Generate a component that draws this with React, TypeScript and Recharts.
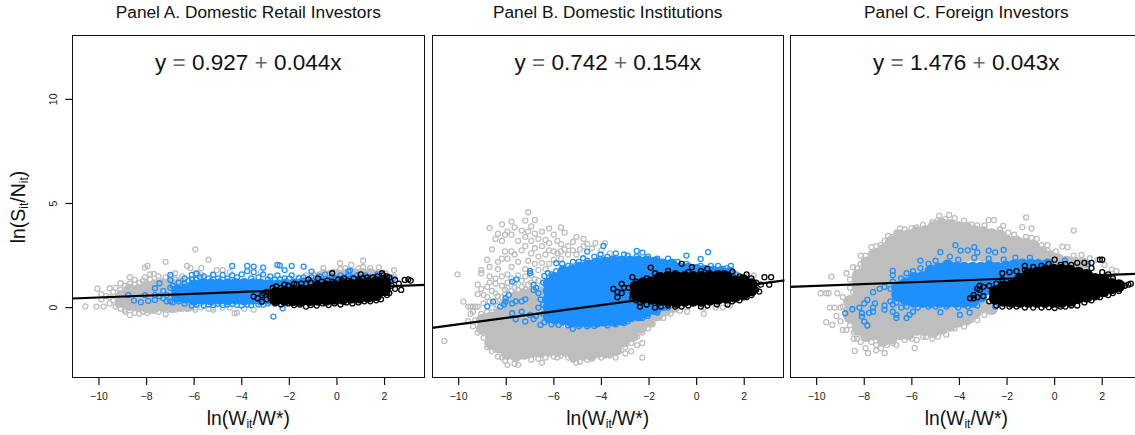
import { Scatter, ScatterChart, XAxis, YAxis } from "recharts";

type Row = [number, number[]];

const xTicks = [-10, -8, -6, -4, -2, 0, 2];
const yTicks = [0, 5, 10];
const titles = ["Panel A. Domestic Retail Investors", "Panel B. Domestic Institutions", "Panel C. Foreign Investors"];
const intercepts = [0.927, 0.742, 1.476];
const slopes = [0.044, 0.154, 0.043];
const xRange = [-11.12, 3.7];
const yRange = [-3.38, 13.09];

const aGreyCore: Row[] = [[-9.05,[0.3,0.55]],[-8.7,[0.15,0.5,0.85]],[-8.35,[0.1,0.4,0.8]],[-8,[0.05,0.35,0.75,1]],[-7.65,[0.05,0.4,0.8,1.05]],[-7.3,[0.1,0.45,0.85,1.1]],[-6.95,[0.05,0.35,0.75,1.1]],[-6.6,[0.1,0.4,0.8,1.15]],[-6.25,[0.1,0.4]],[-0.7,[1.45]],[-0.35,[1.5]],[0,[1.55]],[0.35,[1.55]],[0.7,[1.6]],[1.05,[1.6]],[1.4,[1.6]],[1.75,[1.55]]];
const aBlueCore: Row[] = [[-6.7,[0.55,0.8]],[-6.35,[0.5,0.85]],[-6,[0.42,0.75,1.05]],[-5.65,[0.45,0.8,1.1]],[-5.3,[0.42,0.75,1.1]],[-4.95,[0.45,0.8,1.1]],[-4.6,[0.42,0.75,1.1]],[-4.25,[0.45,0.8,1.12]],[-3.9,[0.42,0.75,1.12]],[-3.55,[0.45,0.8,1.1]],[-3.2,[0.42,0.75,1.08]],[-2.85,[0.45,0.8,1.05]],[-2.5,[1.05]],[-2.15,[1.1]],[-1.8,[1.1]],[-1.45,[1.15]],[-1.1,[1.15]],[-0.75,[1.2]],[-0.4,[1.2]],[-0.05,[1.25]],[0.3,[1.3]],[0.65,[1.3]],[1,[1.3]],[1.35,[1.3]],[1.7,[1.3]],[2.1,[1.3]]];
const aBlackCore: Row[] = [[-2.55,[0.42,0.68]],[-2.2,[0.4,0.72]],[-1.85,[0.38,0.75]],[-1.5,[0.38,0.8]],[-1.15,[0.38,0.8]],[-0.8,[0.4,0.72,0.95]],[-0.45,[0.4,0.72,1]],[-0.1,[0.45,0.75,1.02]],[0.25,[0.45,0.75,1.02]],[0.6,[0.5,0.8,1.08]],[0.95,[0.5,0.82,1.12]],[1.3,[0.55,0.85,1.15]],[1.65,[0.62,0.9,1.2]],[2,[0.85,1.2]]];

const bGreyCore: Row[] = [[-9,[-1,-0.6]],[-8.65,[-1.7,-1.3,-0.9,-0.5]],[-8.3,[-1.9,-1.5,-1.1,-0.7,-0.3]],[-7.95,[-2.2,-1.8,-1.4,-1,-0.6,-0.2,0.2]],[-7.6,[-2.3,-1.9,-1.5,-1.1,-0.7,-0.3,0.1,0.5]],[-7.25,[-2.2,-1.8,-1.4,-1,-0.6,-0.2,0.2,0.6]],[-6.9,[-2.1,-1.7,-1.3,-0.9,-0.5,-0.1,0.3,0.7]],[-6.55,[-2.1,-1.7,-1.3,-0.9,-0.5,-0.1,0.3,0.7]],[-6.2,[-2.05,-1.65,-1.25,-0.9]],[-5.85,[-2.05,-1.65,-1.25,-0.9]],[-5.5,[-2,-1.6,-1.2]],[-5.15,[-2.3,-1.9,-1.5,-1.1]],[-4.8,[-2.2,-1.8,-1.4,-1]],[-4.45,[-2.25,-1.85,-1.45,-1.1]],[-4.1,[-2.1,-1.7,-1.3,-0.9]],[-3.75,[-2.1,-1.7,-1.3,-0.9]],[-3.4,[-2,-1.6,-1.2,-0.8]],[-3.05,[-1.6,-1.2,-0.8]],[-2.7,[-1.35,-1,-0.6]],[-2.35,[-0.95,-0.6,-0.3]],[-2,[-0.65,-0.3]],[-1.65,[-0.35,0]],[-1.3,[-0.1,0.2]],[-0.95,[0.05]]];
const bBlueCore: Row[] = [[-6.2,[-0.4,0,0.4,0.8,1.15]],[-5.95,[-0.5,-0.15,0.25,0.65,1.05,1.4]],[-5.6,[-0.55,-0.2,0.2,0.6,1,1.4,1.7]],[-5.25,[-0.65,-0.25,0.15,0.55,0.95,1.35,1.75]],[-4.9,[-0.65,-0.25,0.15,0.55,0.95,1.35,1.75,1.9]],[-4.55,[-0.65,-0.25,0.15,0.55,0.95,1.35,1.75,2]],[-4.2,[-0.65,-0.25,0.15,0.55,0.95,1.35,1.75,2.1]],[-3.85,[-0.6,-0.2,0.2,0.6,1,1.4,1.8,2.15]],[-3.5,[-0.6,-0.2,0.2,0.6,1,1.4,1.8,2.2]],[-3.15,[-0.55,-0.2,0.2,0.6,1,1.4,1.8,2.2]],[-2.8,[-0.4,-0.05,0.35,0.75,1.15,1.55,1.95,2.2]],[-2.45,[-0.35,0,0.4,1.2,1.6,2,2.2]],[-2.1,[-0.15,0.2,1.5,1.9,2.2]],[-1.75,[-0.05,1.55,1.9,2.15]],[-1.4,[0.15,1.6,1.9,2.05]],[-1.05,[1.5,1.85,2.05]],[-0.7,[1.5,1.85]],[-0.35,[1.5,1.85]],[0,[1.5,1.8]],[0.35,[1.4,1.75]],[0.7,[1.45,1.72]],[1.05,[1.5,1.7]],[1.4,[1.5,1.65]]];
const bBlackCore: Row[] = [[-2.55,[0.65,1]],[-2.25,[0.5,0.85,1.15]],[-1.9,[0.45,0.85,1.2]],[-1.55,[0.4,0.8,1.2,1.4]],[-1.2,[0.35,0.75,1.15,1.45]],[-0.85,[0.3,0.7,1.1,1.45]],[-0.5,[0.35,0.75,1.15,1.45]],[-0.15,[0.35,0.75,1.15,1.45]],[0.2,[0.35,0.75,1.15,1.45]],[0.55,[0.4,0.8,1.2,1.45]],[0.9,[0.45,0.85,1.25,1.5]],[1.25,[0.5,0.9,1.25,1.45]],[1.6,[0.55,0.95,1.25]],[1.95,[0.65,1.05,1.3]],[2.3,[0.85,1.1]]];

const cGreyCore: Row[] = [[-8.6,[-0.45,-0.1,0.3]],[-8.25,[-1.05,-0.7,-0.3,0.1,0.5,0.9,1.25,1.55]],[-7.9,[-1.35,-1,-0.6,-0.2,0.2,0.6,1,1.4,1.8,2.15]],[-7.55,[-1.25,-0.9,-0.5,-0.1,0.3,0.7,1.1,1.5,1.9,2.3,2.55]],[-7.2,[-1.55,-1.2,-0.8,-0.4,0,0.4,0.8,1.2,1.6,2,2.4,2.75]],[-6.85,[-1.45,-1.1,-0.7,-0.3,0.1,0.5,0.9,1.3,1.7,2.1,2.5,2.85,3.15]],[-6.5,[-1.25,-0.9,-0.5,-0.1,0.3,1.1,1.5,1.9,2.3,2.7,3.1,3.45]],[-6.15,[-1.25,-0.9,-0.5,-0.1,1.5,1.9,2.3,2.7,3.1,3.45]],[-5.8,[-1.05,-0.7,-0.3,0.05,1.7,2.1,2.5,2.9,3.3,3.6]],[-5.45,[-1.05,-0.7,-0.3,0.05,1.9,2.3,2.7,3.1,3.5,3.65]],[-5.1,[-1.15,-0.8,-0.4,0,2.1,2.5,2.9,3.3,3.7,3.85]],[-4.75,[-1,-0.6,-0.2,0.05,2.2,2.6,3,3.4,3.8,4]],[-4.4,[-0.85,-0.5,-0.1,2.4,2.8,3.2,3.6,3.95]],[-4.05,[-0.65,-0.3,0,2.4,2.8,3.2,3.6,3.85]],[-3.7,[-0.55,-0.2,2.5,2.9,3.3,3.7,3.8]],[-3.35,[-0.25,0.05,2.5,2.9,3.3,3.65]],[-3,[0.05,2.5,2.9,3.3,3.6]],[-2.65,[-0.05,2.4,2.8,3.2,3.5]],[-2.3,[2.5,2.9,3.25,3.45]],[-1.95,[2.4,2.8,3.15]],[-1.6,[2.5,2.85,3.15]],[-1.25,[2.4,2.8,3.05]],[-0.9,[2.4,2.75,2.95]],[-0.55,[2.4,2.65]],[-0.2,[2.3,2.45]],[0.15,[2.3]],[0.5,[2.2]],[0.85,[2.15]],[1.2,[2.1]]];
const cBlueCore: Row[] = [[-6.6,[0.6,0.95]],[-6.25,[0.4,0.8,1.15]],[-5.9,[0.3,0.7,1.1,1.4]],[-5.55,[0.3,0.7,1.1,1.45]],[-5.2,[0.3,0.7,1.1,1.5,1.75]],[-4.85,[0.3,0.7,1.1,1.5,1.85]],[-4.5,[0.3,0.7,1.1,1.5,1.9,2]],[-4.15,[0.3,0.7,1.1,1.5,1.9]],[-3.8,[0.3,0.7,1.1,1.5,1.9]],[-3.45,[0.3,0.7,1.1,1.5,1.9]],[-3.1,[0.55,0.95,1.35,1.9]],[-2.75,[0.9,1.3,1.7,1.95]],[-2.4,[1.1,1.5,1.9]],[-2.05,[1.3,1.7,1.95]],[-1.7,[1.6,2]],[-1.35,[1.85,2.05]],[-1,[2.05]],[-0.65,[2]],[-0.3,[2.05]]];
const cBlackCore: Row[] = [[-2.5,[0.45,0.75]],[-2.15,[0.35,0.75,1]],[-1.8,[0.3,0.7,1.05]],[-1.45,[0.3,0.7,1.1,1.35]],[-1.1,[0.3,0.7,1.1,1.45,1.6]],[-0.75,[0.3,0.7,1.1,1.5,1.65]],[-0.4,[0.3,0.7,1.1,1.5,1.75]],[-0.05,[0.3,0.7,1.1,1.5,1.8]],[0.3,[0.3,0.7,1.1,1.5,1.8]],[0.65,[0.35,0.75,1.15,1.5,1.75]],[1,[0.5,0.9,1.3,1.65]],[1.35,[0.55,0.95,1.35,1.55]],[1.7,[0.65,1.05,1.35]],[2.05,[0.8,1.2,1.3]],[2.4,[0.95,1.1]],[2.7,[1.05]]];

// single open circles: the edges and outliers of each cloud
const aGreyRings: Row[] = [[-10.57,[0.06]],[-10.1,[0.05]],[-10.07,[0.91]],[-9.9,[0.65,0.4]],[-9.8,[0.05]],[-9.7,[0.55]],[-9.55,[0.93,0.2,0.5]],[-9.4,[0.75,0.35]],[-9.3,[0.05,0.95]],[-9.2,[0.5,0.15]],[-9.1,[1.17,-0.05,0.85]],[-8.9,[-0.1,1.05,-0.2]],[-8.7,[1.46,-0.35,1.15]],[-8.5,[1.33,-0.25,1.1]],[-8.3,[1.2,-0.3]],[-8.15,[-0.2,1.3]],[-8.07,[1.92,1.45]],[-7.96,[2,-0.25]],[-7.85,[1.6,1.35,-0.15]],[-7.7,[1.62,-0.15]],[-7.5,[1.5,-0.2,1.3]],[-7.2,[2.2,-0.32,1.45]],[-6.95,[1.5,-0.1]],[-6.8,[1.65,-0.1,1.35]],[-6.5,[1.5,-0.05]],[-6.3,[2,-0.05]],[-6.15,[1.9,0]],[-5.95,[2.8,1.6,-0.1,0]],[-5.7,[1.9,0,1.6]],[-5.4,[2.3,-0.05]],[-5.2,[-0.1,1.6,0]],[-5.05,[1.8]],[-4.8,[1.8,0]],[-4.5,[0,1.7]],[-4.3,[-0.27]],[-4.2,[-0.24]],[-3.9,[-0.05]],[-3.5,[-0.1]],[-3.2,[1.7]],[-1.6,[1.45]],[-1.3,[1.55]],[-1,[1.6]],[-0.57,[1.9,1.7]],[-0.15,[1.73]],[0.13,[2.13,1.85]],[0.35,[1.9]],[0.6,[2.05]],[0.9,[1.9]],[1.1,[2.25,1.95]],[1.4,[1.9]],[1.76,[1.93]],[2.05,[1.65]],[2.4,[1.8,1.5]]];
const aBlueRings: Row[] = [[-8.77,[0.6]],[-8.53,[0.34]],[-8.24,[0.26]],[-8.07,[0.6]],[-7.93,[0.32]],[-7.65,[0.93,0.37,0.6]],[-7.46,[1.17,0.55]],[-7.3,[0.45,0.8]],[-7.15,[0.6,0.3]],[-7,[1.57,1.33,0.3,0.95]],[-6.9,[1.05,0.25]],[-6.65,[1.2,0.3]],[-6.4,[1.4,0.2,1.15]],[-6.25,[1.3]],[-6.1,[1.57,0.1,1.35]],[-5.9,[1.65,0.15,1.35]],[-5.75,[1.45]],[-5.6,[1.5,0.1]],[-5.4,[1.4,0.15]],[-5.2,[1.57,0.12]],[-5,[1.4,0.18]],[-4.8,[1.57,0.12]],[-4.6,[1.4,0.15]],[-4.4,[2,1.55,0.18]],[-4.2,[1.45,0.12]],[-4,[1.6,0.1]],[-3.77,[2,1.75,0.15]],[-3.6,[1.4,0.12]],[-3.5,[1.97,1.7]],[-3.3,[1.45,0.15]],[-3.1,[1.92,1.6,0.14]],[-2.9,[1.35,0.2]],[-2.8,[1.5]],[-2.6,[1.35]],[-2.5,[2.05,1.55]],[-2.4,[2.02,1.35]],[-2.2,[1.8,1.4]],[-2.28,[-0.03]],[-2.67,[-0.43]],[-2,[1.4]],[-1.9,[2,1.55]],[-1.6,[1.4]],[-1.4,[1.97,1.45]],[-1.07,[1.73,1.45]],[-0.75,[1.5]],[-0.5,[1.6]],[-0.2,[1.5]],[0.15,[1.55]],[0.48,[1.73,1.55]],[0.55,[1.78]],[0.85,[1.55]],[1.2,[1.55]],[1.7,[1.6]],[2.35,[1.4]]];
const aBlackRings: Row[] = [[-3.5,[0.53]],[-3.33,[0.45]],[-3.15,[0.29,0.6]],[-3.08,[0.7]],[-2.95,[0.4,0.75]],[-2.8,[0.5,0.65]],[-2.7,[0.3,0.95]],[-2.6,[0.2,0.85]],[-2.55,[1.02]],[-2.35,[0.15,0.95]],[-2.2,[1.1]],[-2.05,[0.2,1.05]],[-1.8,[1.15,0.12]],[-1.7,[1.1]],[-1.55,[0.15]],[-1.5,[1.15]],[-1.3,[0.05,1.15]],[-1.2,[1.36]],[-1.1,[0.12,1.2]],[-0.85,[0.1,1.15]],[-0.8,[1.4]],[-0.65,[1.25]],[-0.6,[0.2]],[-0.4,[1.3]],[-0.35,[0.12]],[-0.2,[1.65,1.25]],[-0.1,[0.2]],[0.05,[1.35]],[0.15,[0.15]],[0.2,[1.3]],[0.3,[1.4]],[0.4,[0.25]],[0.45,[1.3]],[0.65,[0.2]],[0.7,[1.4]],[0.9,[0.25,1.35]],[1,[1.6]],[1.1,[1.4]],[1.15,[0.3]],[1.25,[1.45]],[1.4,[0.3]],[1.5,[1.45]],[1.65,[0.35]],[1.7,[1.5]],[1.85,[0.4]],[1.9,[1.65]],[1.95,[1.55]],[2.1,[0.6,1.5]],[2.2,[1.45,0.7]],[2.3,[1.05]],[2.44,[1.33,0.9]],[2.6,[1.15]],[2.7,[0.85]],[2.85,[1.33]],[3,[1.36]],[3.1,[1.3]]];

const bGreyRings: Row[] = [[-10.6,[-1.6]],[-10.05,[1.6]],[-9.8,[0.29]],[-9.6,[-0.65,0.05]],[-9.5,[0.05,-0.3]],[-9.4,[-0.2,-0.9,0.05]],[-9.3,[0.05,-0.6]],[-9.2,[1.1,0.65,-1.2,0.05]],[-9.05,[1.8,1.65,-0.3,0.9]],[-8.95,[0.2,-0.5,-1.45,0.6]],[-8.8,[2.3,1,0.5,-1.9,-0.2]],[-8.7,[3.82,1.95,1.5,1.2,0.3]],[-8.6,[2.8,0.8,-2.1,0]],[-8.45,[3.3,1.4,1.15,0.7,0.3,-2]],[-8.35,[3.55,2.2,1.85,0.55,-2.35,0.1]],[-8.18,[4,3.2,2.35,1.5,1.05,0.5,0.2,-2.4]],[-8.05,[3.5,2.7,0.85,-2.55,0.65]],[-7.95,[3.65,2.35,1.6,1.2,-2.75,0.95]],[-7.78,[4.13,3.5,2.7,1.95,1.4,0.8]],[-7.65,[3.85,2.55,0.95,-2.7,1.2]],[-7.5,[3.2,2.2,1.55,-2.75,0.85]],[-7.35,[3.7,2.75,1.3,1]],[-7.2,[4.18,3.4,2.95,1.85,1.5,0.85]],[-7.08,[4.58,3.65,2.25,1.1]],[-6.95,[3.9,3.2,2.6,1.55,-2.5,1.2]],[-6.8,[4.2,3.55,2.85,2.1,1.35]],[-6.65,[3.3,2.45,1.8,1.3,-2.45]],[-6.5,[3.65,2.95,2.15,-2.65,1.1]],[-6.35,[3.25,2.55,1.85,-2.4]],[-6.2,[3.8,3.1,2.75,2.1]],[-6,[3.5,2.7,2.3,-2.35]],[-5.85,[3.2,2.6,-2.4]],[-5.7,[3.85,3.05,2.7,2.35,-2.3]],[-5.55,[3.6,2.8,-2.2]],[-5.4,[2.95,2.55,-2.4]],[-5.2,[3.15,2.75,-2.5]],[-5.05,[3.4,2.55,-2.65]],[-4.9,[2.8,-2.6]],[-4.75,[3.3,2.95,-2.4]],[-4.6,[3.05,-2.5]],[-4.4,[2.85,-2.45]],[-4.25,[3.1,-2.3]],[-4,[2.75,-2.4]],[-3.85,[3.1,-2.3]],[-3.65,[2.6,-2.3]],[-3.4,[-2.4]],[-3.25,[-2.1,-1.8]],[-3,[-1.9,-2.2]],[-2.75,[-1.7,-2.1]],[-2.5,[-1.4,-1.8]],[-2.28,[-2.4,-1.7,-1.2]],[-2.05,[-1]],[-1.85,[-0.8]],[-1.4,[-0.5]],[-1.1,[-0.3]],[-0.7,[-0.15]],[-0.4,[-0.2]],[0.3,[-0.3,0]],[0.8,[0]],[1.1,[0]],[1.4,[0.1]],[2.1,[1.5]],[2.4,[1.55]]];
const bBlueRings: Row[] = [[-8.8,[0.06]],[-8.55,[0.29]],[-8.25,[0.05]],[-8.1,[0.15]],[-8.03,[0.29,0.45]],[-7.9,[0.6]],[-7.75,[1.25,-0.27,0.2]],[-7.6,[-0.56,0.3]],[-7.57,[1.36]],[-7.35,[0.3,-0.2]],[-7.2,[-0.67,0.4]],[-7,[1.76,1.65,-0.35]],[-6.85,[1.09,0.85,-0.55]],[-6.75,[0.95,-0.4]],[-6.65,[0.7,0]],[-6.56,[-0.83,0.4]],[-6.45,[1.2,0.15,-0.3]],[-6.4,[1.52,-0.7]],[-6.25,[1.65,-0.6]],[-6.1,[1.6,-0.8]],[-5.9,[2.13,1.75]],[-5.65,[2.1,1.9]],[-5.8,[-0.83]],[-5.4,[2,-0.85]],[-5.2,[-1.02,2.2]],[-4.95,[2.2,-0.9]],[-4.77,[2.37]],[-4.6,[2.69,-0.9,2.25]],[-4.3,[2.45,-0.88]],[-4.04,[-0.75,2.55,2.35]],[-3.92,[2.96]],[-3.75,[2.45,-0.85]],[-3.4,[2.6,-0.8,2.4]],[-3.05,[-0.4,2.55,-0.75]],[-2.9,[2.5,-0.65]],[-2.52,[2.72,-0.3,2.45]],[-2.28,[2.64,-0.5]],[-2.05,[2.45,-0.4]],[-1.65,[2.35,-0.25]],[-1.2,[2.35,0]],[-0.8,[2.2]],[-0.43,[2.5,2.1]],[0.17,[2.34,2]],[0.48,[2.66]],[0.6,[2]],[0.9,[2]],[1.27,[1.9]],[1.44,[2]],[1.65,[1.6]]];
const bBlackRings: Row[] = [[-3.5,[0.9]],[-3.33,[0.5,0.75]],[-3.15,[1.14,0.7]],[-3.05,[0.95]],[-2.85,[0.95]],[-2.7,[1.46,0.45]],[-2.55,[1.25,0.35]],[-2.38,[0.05,0.25]],[-2.1,[0.15,1.4]],[-1.93,[1.92]],[-1.75,[1.65,0]],[-1.5,[1.55,0.05]],[-1.2,[1.76,0.1]],[-0.9,[0.05,1.65]],[-0.63,[2.1,0.05]],[-0.35,[0.1,1.7]],[-0.2,[1.94]],[0.18,[1.75,0.05]],[0.45,[1.86,0.1]],[0.55,[1.65]],[0.85,[1.62,0.15]],[1.15,[1.65]],[1.3,[0.15]],[1.5,[1.73,0.3]],[1.8,[1.5,0.35]],[2.1,[1.6,0.5]],[2.3,[1.4,0.6]],[2.5,[1.2,0.85]],[2.63,[0.77]],[2.7,[1.1]],[2.85,[1.46]],[3.05,[1.1]],[3.13,[1.46]]];

const cGreyRings: Row[] = [[-9.83,[0.69]],[-9.6,[0.69,-0.7]],[-9.5,[0.69]],[-9.45,[0]],[-9.38,[1.49]],[-9.34,[-0.83]],[-9.25,[0]],[-9.17,[-0.4]],[-9.13,[0.69]],[-9,[0,-0.65]],[-8.9,[-1.07,0.5,0.05]],[-8.75,[1.65,0.29,-1.07,-0.4]],[-8.6,[0.95,1.35,-0.85]],[-8.47,[1.94,0.75]],[-8.44,[-1.5,-1.2]],[-8.4,[-2.08]],[-8.3,[-1.5,1.9]],[-8.15,[2.5,2.1,-1.65]],[-7.94,[-1.95,2.5]],[-7.84,[-2.19]],[-7.7,[2.9,-1.65,2.6]],[-7.5,[-1.8,-2.05,2.95]],[-7.3,[3,-1.95]],[-7.14,[-2.19,3.2]],[-7.05,[-1.8,3.05]],[-7,[3.44]],[-6.8,[3.4,-1.7]],[-6.65,[-1.8,3.6]],[-6.5,[3.8]],[-6.3,[3.75,-1.55]],[-6,[3.8,-1.5]],[-5.88,[-1.95]],[-5.8,[-1.55,3.85]],[-5.53,[3.97,-1.4]],[-5.4,[-1.4]],[-5.14,[4.1,-1.5]],[-4.9,[-1.39,4.2]],[-4.85,[4.42]],[-4.6,[4.25]],[-4.55,[-0.9,-1.3]],[-4.43,[4.45]],[-4.2,[4.3,-1]],[-3.8,[4.18,-0.91]],[-3.5,[4,-0.6]],[-3.25,[3.95,-0.6]],[-2.95,[3.95,-0.35]],[-2.77,[4.2]],[-2.55,[4.2]],[-2.3,[3.75]],[-2.16,[3.92]],[-1.95,[3.6]],[-1.7,[3.5]],[-1.36,[3.86]],[-1.2,[4.33,3.4]],[-0.97,[3.8,3.35]],[-0.75,[3.3]],[-0.55,[3]],[-0.3,[3,2.75]],[0.05,[2.7]],[0.33,[2.93]],[0.54,[2.9]],[0.8,[3.7,2.5]],[1.13,[2.53]],[1.48,[2.37]],[1.8,[2.29]],[2.1,[2.05]],[2.4,[1.84]],[2.6,[1.75]]];
const cBlueRings: Row[] = [[-8.8,[-0.27]],[-8.5,[-0.08]],[-8.2,[0]],[-8.1,[-0.27,-0.43]],[-8,[-0.67,0.2]],[-7.87,[-0.86,0.37]],[-7.8,[-0.25]],[-7.63,[0.74,0,-0.2]],[-7.55,[0.2]],[-7.35,[0.9]],[-7.15,[1,0.1,-0.1]],[-6.9,[0.3,0.9]],[-6.8,[1.76,1.55,1.25,0.15,-0.2]],[-6.65,[-0.5,-0.35,0.25]],[-6.45,[1.4,0]],[-6.22,[-0.5,1.65,0.05]],[-6.1,[-0.35]],[-5.95,[1.75,-0.2]],[-5.75,[0]],[-5.64,[2.26,1.9]],[-5.3,[2.1,0.05]],[-5,[2.25,0.05]],[-4.8,[-0.22,2.66]],[-4.55,[0.05]],[-4.4,[2.45]],[-4.17,[3]],[-4.05,[2.3,0]],[-3.98,[-0.35]],[-3.95,[2.74]],[-3.65,[2.75,0.05]],[-3.57,[-0.24]],[-3.38,[2.9,2.4]],[-3.25,[2.65,0.1]],[-2.77,[2.74,2.35]],[-2.5,[2.65,0.05]],[-2.14,[2.77,2.3]],[-1.65,[2.4]],[-1.04,[2.4]],[-0.7,[2.2]],[0.43,[2.26]],[1.4,[2.1]],[2.45,[1.3]]];
const cBlackRings: Row[] = [[-3.55,[0.45]],[-3.4,[0.6,0.45]],[-3.25,[0.9,0.5]],[-3.15,[1.05,0.85]],[-3,[1,0.55]],[-2.75,[1.05,0.3]],[-2.45,[1.15,0.1]],[-2.2,[1.65,1.35,0.05]],[-1.9,[1.7,0.05]],[-1.6,[1.75,0.05]],[-1.25,[2,1.8,0]],[-0.9,[1.95,0]],[-0.55,[2,0]],[-0.25,[2.1,0.02]],[0,[2.3,-0.02]],[0.25,[2.05,0.05]],[0.45,[2.1,0.05]],[0.7,[2.05,0.1]],[0.95,[2.15,0.1]],[1.25,[2.15,0.25]],[1.55,[2.15,0.35,1.9]],[1.9,[2.3,0.5]],[2,[2.3,1.7]],[2.25,[1.6,0.6]],[2.45,[1.4,0.7]],[2.7,[1.15,0.8]],[2.95,[1.05]],[3.1,[1.1]],[3.2,[1.15]]];

const greyRows = [[aGreyCore, aGreyRings], [bGreyCore, bGreyRings], [cGreyCore, cGreyRings]];
const blueRows = [[aBlueCore, aBlueRings], [bBlueCore, bBlueRings], [cBlueCore, cBlueRings]];
const blackRows = [[aBlackCore, aBlackRings], [bBlackCore, bBlackRings], [cBlackCore, cBlackRings]];

const toPoints = (rows: Row[]) => rows.flatMap(([x, ys]) => ys.map((y) => ({ x, y })));

const ring = (color: string) => (props: any) => (
  <circle cx={props.cx} cy={props.cy} r={2.5} fill="none" stroke={color} strokeWidth={1.3} />
);
const blob = (color: string) => (props: any) => <circle cx={props.cx} cy={props.cy} r={6.4} fill={color} />;
const noMarker = () => <g />;

const XTick = ({ x, y, payload }: any) => (
  <text x={x} y={y + 13} textAnchor="middle" fontSize={10.5} fill="#222">
    {String(payload.value).replace("-", "\u2212")}
  </text>
);

const YTick = ({ x, y, payload }: any) => (
  <text transform={`rotate(-90 ${x - 6} ${y})`} x={x - 6} y={y} textAnchor="middle" fontSize={10.5} fill="#222">
    {payload.value}
  </text>
);

const PLOT_LEFTS = [72.3, 431.7, 790.3];
const PLOT_W = 352.7;
const PLOT_TOP = 35;
const PLOT_H = 343;
const FONT = "'Liberation Sans', Arial, sans-serif";

const absCenter = (x: number, y: number): React.CSSProperties => ({
  position: "absolute",
  left: x,
  top: y,
  transform: "translateX(-50%)",
  whiteSpace: "nowrap",
  color: "#111",
});

const Panel = ({ index }: { index: number }) => {
  const left = PLOT_LEFTS[index];
  const a = intercepts[index];
  const b = slopes[index];
  const first = index === 0;
  const chartLeft = first ? 0 : left - 10;
  const colors: [any, string][] = [
    [greyRows[index], "#BEBEBE"],
    [blueRows[index], "#1E90FF"],
    [blackRows[index], "#000000"],
  ];
  // the fitted line, from the coefficients printed in the panel
  const fit = xRange.map((x) => ({ x, y: a + b * x }));
  return (
    <>
      <div style={{ position: "absolute", left: chartLeft, top: 0 }}>
        <ScatterChart
          width={left - chartLeft + PLOT_W + 6}
          height={435}
          margin={{ top: PLOT_TOP, right: 6, bottom: 0, left: first ? 0 : 10 }}
        >
          <XAxis
            type="number"
            dataKey="x"
            domain={xRange}
            ticks={xTicks}
            height={57}
            tickSize={7}
            tick={<XTick />}
            axisLine={false}
            tickLine={{ stroke: "#111", strokeWidth: 1.2 }}
            interval={0}
            allowDataOverflow
          />
          <YAxis
            type="number"
            dataKey="y"
            domain={yRange}
            ticks={yTicks}
            hide={!first}
            width={left}
            tickSize={7}
            tickMargin={2}
            tick={<YTick />}
            axisLine={false}
            tickLine={{ stroke: "#111", strokeWidth: 1.2 }}
            interval={0}
            allowDataOverflow
          />
          {colors.map(([rows, color]) => [
            <Scatter key={color + "core"} data={toPoints(rows[0])} shape={blob(color)} isAnimationActive={false} />,
            <Scatter key={color + "rings"} data={toPoints(rows[1])} shape={ring(color)} isAnimationActive={false} />,
          ])}
          <Scatter
            data={fit}
            line={{ stroke: "#000", strokeWidth: 2.2 }}
            shape={noMarker}
            isAnimationActive={false}
          />
        </ScatterChart>
      </div>
      <div
        style={{
          position: "absolute",
          left,
          top: PLOT_TOP,
          width: PLOT_W,
          height: PLOT_H,
          boxSizing: "border-box",
          border: "1.5px solid #111",
          pointerEvents: "none",
        }}
      />
      <div style={{ ...absCenter(left + 176, 2), fontSize: 17.3 }}>{titles[index]}</div>
      <div style={{ ...absCenter(left + 176, 50), fontSize: 22.5 }}>
        y <span style={{ color: "#666" }}>=</span> {a.toFixed(3)} <span style={{ color: "#666" }}>+</span>{" "}
        {b.toFixed(3)}x
      </div>
      <div style={{ ...absCenter(left + 176, 408), fontSize: 19.3 }}>
        ln(W<span style={{ fontSize: 12, verticalAlign: -3 }}>it</span>/W*)
      </div>
    </>
  );
};

export default function App() {
  return (
    <div
      style={{
        position: "absolute",
        left: 0,
        top: 0,
        width: 1135,
        height: 435,
        overflow: "hidden",
        background: "#fff",
        fontFamily: FONT,
      }}
    >
      {titles.map((_, i) => (
        <Panel key={i} index={i} />
      ))}
      <div
        style={{
          position: "absolute",
          left: 19,
          top: 207,
          transform: "translate(-50%, -50%) rotate(-90deg)",
          whiteSpace: "nowrap",
          fontSize: 19.5,
          color: "#111",
        }}
      >
        ln(S<span style={{ fontSize: 12, verticalAlign: -3 }}>it</span>/N
        <span style={{ fontSize: 12, verticalAlign: -3 }}>it</span>)
      </div>
    </div>
  );
}
